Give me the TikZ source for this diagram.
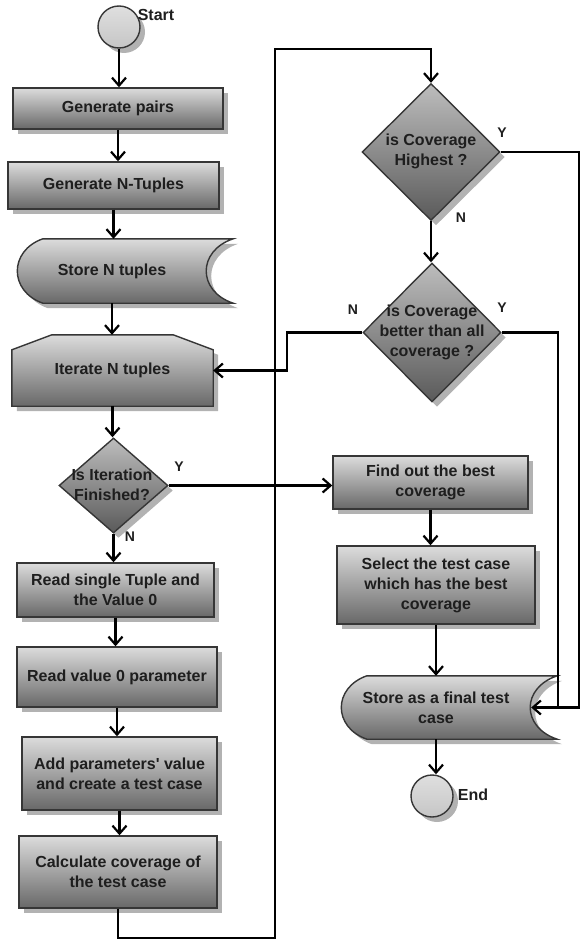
\documentclass[tikz,border=0pt]{standalone}
\usepackage{fontspec}
\setmainfont{Liberation Sans}
\usetikzlibrary{arrows.meta,shapes.geometric,shadows,backgrounds,calc}

\definecolor{boxtop}{HTML}{DCDCDC}
\definecolor{boxbot}{HTML}{686868}
\definecolor{dmdtop}{HTML}{BDBDBD}
\definecolor{dmdbot}{HTML}{5A5A5A}
\definecolor{rim}{HTML}{363636}
\definecolor{shadowgray}{HTML}{B2B2B2}
\definecolor{inkgray}{HTML}{1E1E1E}

\begin{document}
\begin{tikzpicture}[
  x=1pt, y=-1pt,
  every node/.style={font=\bfseries\fontsize{16}{20}\selectfont, text=inkgray, align=center, inner sep=0pt},
  body/.style={draw=rim, line width=1.4pt,
    drop shadow={shadow xshift=5pt, shadow yshift=-5pt, fill=shadowgray, opacity=1}},
  procbox/.style={body, rectangle, top color=boxtop, bottom color=boxbot},
  decision/.style={body, diamond, top color=dmdtop, bottom color=dmdbot},
  terminal/.style={body, circle, top color=gray!25, bottom color=gray!45, minimum size=42pt},
  yn/.style={font=\bfseries\fontsize{14}{16}\selectfont},
  conn/.style={line width=2.2pt, black},
  flow/.style={conn, -{Straight Barb[length=8pt,width=14pt,line width=2.2pt]}}
]
\useasboundingbox (0,0) rectangle (581,941);

\node[terminal] (start) at (119,27) {};
\node (startlbl) at (156,15) {Start};
\node[procbox, minimum width=210pt, minimum height=41pt] (gpairs) at (118,108.5) {Generate pairs};
\node[procbox, minimum width=211pt, minimum height=47pt] (gtuples) at (113.5,185.5) {Generate N-Tuples};
\node[minimum width=190pt, minimum height=64pt] (store) at (112,271) {Store N tuples};
\node[minimum width=201pt, minimum height=71pt] (iter) at (112.5,370.5) {Iterate N tuples};
\node[decision, minimum width=109pt, minimum height=95pt] (iterdiam) at (113.5,485.5) {};
\node (iterdiamtxt) at (112,485) {Is Iteration\\Finished?};
\node[procbox, minimum width=197pt, minimum height=54pt] (read1) at (115.5,590) {Read single Tuple and\\the Value 0};
\node[procbox, minimum width=200pt, minimum height=60pt] (read2) at (117,677) {Read value 0 parameter};
\node[procbox, minimum width=195pt, minimum height=73pt] (addp) at (119.5,773.5) {Add parameters\textquotesingle{} value\\and create a test case};
\node[procbox, minimum width=198pt, minimum height=72pt] (calc) at (118,872) {Calculate coverage of\\the test case};

\node[decision, minimum width=138pt, minimum height=137pt] (cov1) at (431,152) {};
\node (cov1txt) at (431,151) {is Coverage\\Highest ?};
\node[decision, minimum width=138pt, minimum height=139pt] (cov2) at (432,332.5) {};
\node (cov2txt) at (432,332.5) {is Coverage\\better than all\\coverage ?};
\node[procbox, minimum width=195pt, minimum height=53pt] (find) at (430.5,482.5) {Find out the best\\coverage};
\node[procbox, minimum width=198pt, minimum height=78pt] (select) at (436,585) {Select the test case\\which has the best\\coverage};
\node[minimum width=190pt, minimum height=63pt] (sfin) at (436,707.5) {Store as a final test\\case};
\node[terminal] (end) at (432,796) {};
\node (endlbl) at (473,795) {End};

\node[yn] (iterY) at (179,467) {Y};
\node[yn] (iterN) at (130,537) {N};
\node[yn] (cov1Y) at (502,133) {Y};
\node[yn] (cov1N) at (461,218) {N};
\node[yn] (cov2N) at (353,310) {N};
\node[yn] (cov2Y) at (502,308) {Y};

\begin{scope}[on background layer]
  \foreach \s in {store,sfin}
    \path[procbox] ($(\s.north west)+(26,0)$) -- ($(\s.north east)+(26,0)$)
      .. controls ($(\s.north east)+(-10,12)$) and ($(\s.south east)+(-10,-12)$) .. ($(\s.south east)+(26,0)$)
      -- ($(\s.south west)+(26,0)$)
      .. controls ($(\s.south west)+(-8,-12)$) and ($(\s.north west)+(-8,12)$) .. cycle;
  \path[procbox] ($(iter.north west)+(0,15)$) -- ($(iter.north west)+(40,0)$) -- ($(iter.north east)+(-40,0)$)
    -- ($(iter.north east)+(0,15)$) -- (iter.south east) -- (iter.south west) -- cycle;
\end{scope}

\coordinate (loopbl) at (275,938);
\coordinate (looptl) at (275,49);
\coordinate (railtop) at (579,152);
\coordinate (railbot) at (579,707.5);
\coordinate (midrail) at (558,707.5);
\coordinate (nbend) at (287,0);

\foreach \a/\b in {start/gpairs, gpairs/gtuples, gtuples/store, store/iter, iter/iterdiam, iterdiam/read1,
  read1/read2, read2/addp, addp/calc, cov1/cov2, find/select, select/sfin, sfin/end}
  \draw[flow] (\a.south) -- (\a.south |- \b.north);
\draw[flow] (calc.south) |- (loopbl) -- (looptl) -| (cov1.north);
\draw[flow] (iterdiam.east) -- (iterdiam.east -| find.west);
\draw[flow] (cov1.east) -- (railtop) -- (railbot) -- (sfin.east);
\draw[conn] (cov2.east) -| (midrail);
\draw[flow] (cov2.west) -| (nbend |- iter.east) -- (iter.east);
\end{tikzpicture}
\end{document}
